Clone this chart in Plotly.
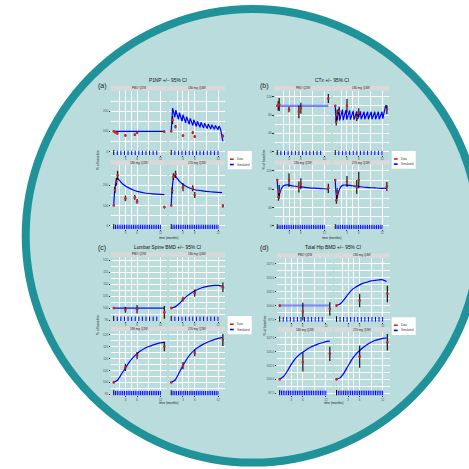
import plotly.graph_objects as go

W = H = 469

facet_names = ["PBO Q2W", "180 mg Q4W", "180 mg Q2W", "270 mg Q2W"]
panel_titles = ["P1NP +/\u2212 95% CI", "CTx +/\u2212 95% CI",
                "Lumbar Spine BMD +/\u2212 95% CI", "Total Hip BMD +/\u2212 95% CI"]
panel_tags = ["(a)", "(b)", "(c)", "(d)"]
legend_labels = ["Data", "Simulated"]
x_title = "time (months)"
y_title = "% of baseline"

x_range = [-0.7, 13.75]
x_ticks = [3, 6, 12]
x_tick_text = ["3", "6", "12"]
x_minor = [1.5, 4.5, 9]

# dosing times (months)
dose_pbo = [0, 0.92, 1.84, 2.76, 3.68, 4.6, 5.52, 6.44, 7.36, 8.28, 9.2, 10.12, 11.04]
dose_q4w = [0, 0.92, 1.84, 2.76, 3.68, 4.6, 5.52, 6.44, 7.36, 8.28, 9.2, 10.12, 11.04, 11.96]
dose_q2w = [0, 0.46, 0.92, 1.38, 1.84, 2.3, 2.76, 3.22, 3.68, 4.14, 4.6, 5.06, 5.52, 5.98,
            6.44, 6.9, 7.36, 7.82, 8.28, 8.74, 9.2, 9.66, 10.12, 10.58, 11.04, 11.5, 11.96]

# ---------------- (a) P1NP ----------------
p1np_obs_t = [[0, 0.4, 0.9, 3, 5.4, 6, 13.0],
              [0, 0.35, 1.1, 3, 5.5, 6, 13.2],
              [0, 0.3, 0.7, 1.0, 3, 5.4, 6, 13.0],
              [0, 0.25, 0.55, 1.1, 3, 5.5, 6, 13.2]]
p1np_obs_v = [[100, 95, 90, 80, 83, 93, 98],
              [100, 156, 123, 79, 94, 74, 77],
              [100, 177, 218, 250, 135, 140, 120, 92],
              [100, 174, 243, 255, 190, 185, 152, 98]]
p1np_obs_e = [[3, 5, 5, 5, 6, 6, 6],
              [3, 20, 8, 6, 7, 7, 7],
              [3, 15, 20, 22, 14, 12, 12, 7],
              [3, 15, 17, 18, 20, 15, 15, 8]]
p1np_sim_t = [[0, 13.0],
              [0, 0.35, 0.92, 1.17, 1.84, 2.09, 2.76, 3.01, 3.68, 3.93, 4.6, 4.85, 5.52, 5.77,
               6.44, 6.69, 7.36, 7.61, 8.28, 8.53, 9.2, 9.45, 10.12, 10.37, 11.04, 11.29,
               11.96, 12.21, 12.6, 13.2],
              [0, 0.2, 0.5, 0.8, 1.0, 1.5, 2, 3, 4, 5, 6, 8, 10, 12, 13],
              [0, 0.2, 0.5, 0.8, 1.0, 1.5, 2, 3, 4, 5, 6, 8, 10, 12, 13]]
p1np_sim_v = [[100, 100],
              [100, 215, 170, 205, 160, 192, 150, 182, 142, 172, 135, 164, 129, 157,
               124, 150, 120, 145, 117, 140, 114, 136, 112, 132, 110, 129, 108, 126, 112, 50],
              [100, 165, 210, 232, 235, 225, 212, 197, 186, 177, 170, 162, 158, 155, 154],
              [100, 175, 230, 248, 247, 235, 222, 205, 193, 184, 178, 172, 168, 165, 164]]
p1np_yticks = [0, 100, 200]
p1np_yminor = [50, 150, 250]
p1np_yrange = [-17, 301]
p1np_rug_y = -8

# ---------------- (b) CTx ----------------
ctx_obs_t = [[0, 0.25, 0.5, 3, 5.5, 6, 13.0],
             [0, 0.25, 0.5, 1.0, 3, 5.5, 6, 13.2],
             [0, 0.3, 0.5, 3, 5.5, 6, 13.0],
             [0, 0.3, 0.5, 3, 5.5, 6, 13.2]]
ctx_obs_v = [[100, 100, 103, 92, 87, 95, 116],
             [100, 65, 80, 88, 100, 75, 85, 92],
             [100, 63, 74, 100, 85, 92, 82],
             [100, 56, 70, 97, 85, 100, 86]]
ctx_obs_e = [[2, 10, 14, 6, 14, 12, 10],
             [2, 8, 12, 10, 15, 8, 10, 10],
             [2, 8, 15, 15, 12, 12, 10],
             [2, 8, 12, 12, 15, 18, 10]]
ctx_sim_t = [[0, 13.0],
             [0, 0.25, 0.92, 1.12, 1.84, 2.04, 2.76, 2.96, 3.68, 3.88, 4.6, 4.8, 5.52, 5.72,
              6.44, 6.64, 7.36, 7.56, 8.28, 8.48, 9.2, 9.4, 10.12, 10.32, 11.04, 11.24,
              11.96, 12.16, 12.9, 13.2],
             [0, 0.15, 0.35, 0.6, 1, 1.5, 2, 3, 4, 6, 8, 10, 12, 13],
             [0, 0.15, 0.35, 0.6, 1, 1.5, 2, 3, 4, 6, 8, 10, 12, 13]]
ctx_sim_v = [[100, 100],
             [100, 65, 93, 68, 92, 69, 91, 70, 90, 70, 89, 70, 88, 71,
              88, 71, 87, 71, 87, 71, 87, 71, 87, 71, 87, 71, 87, 72, 101, 95],
             [100, 80, 66, 70, 80, 87, 89, 89, 87, 85, 83, 82, 81, 80],
             [100, 78, 62, 66, 78, 86, 89, 89, 88, 86, 84, 83, 82, 82]]
ctx_yticks = [0, 40, 80, 120]
ctx_yminor = [20, 60, 100]
ctx_yrange = [-7, 133]
ctx_rug_y = -3.3

# ---------------- (c) Lumbar spine BMD ----------------
ls_obs_t = [[0, 3, 6, 13.0], [0, 3, 6, 13.2], [0, 3, 6, 13.0], [0, 3, 6, 13.2]]
ls_obs_v = [[100, 99.3, 99.5, 98.2],
            [100, 103.75, 106.25, 108.75],
            [100, 106.3, 111.2, 115.0],
            [100, 107.0, 112.4, 117.7]]
ls_obs_e = [[0.3, 1.3, 1.8, 2.7],
            [0.3, 1.0, 1.5, 2.0],
            [0.3, 1.5, 1.5, 2.0],
            [0.3, 1.5, 1.5, 2.5]]
sim_months = [0, 1, 2, 3, 4, 5, 6, 7, 8, 9, 10, 11, 12, 13]
ls_sim_v = [[100, 100, 100, 100, 100, 100, 100, 100, 100, 100, 100, 100, 100, 100],
            [100, 100.5, 101.8, 103.5, 105, 106.2, 107.2, 108, 108.6, 109, 109.3, 109.5, 109.5, 109.2],
            [100, 101, 103.5, 106, 108.5, 110.5, 112, 113.3, 114.3, 115, 115.6, 116.1, 116.5, 116.7],
            [100, 101, 104, 107, 109.8, 112, 113.6, 114.8, 115.8, 116.6, 117.3, 117.9, 118.4, 118.7]]
ls_yticks = [95, 100, 105, 110, 115, 120]
ls_yminor = [97.5, 102.5, 107.5, 112.5, 117.5]
ls_yrange = [94.6, 121.5]
ls_rug_y = 95.4

# ---------------- (d) Total hip BMD ----------------
th_obs_t = [[0, 6, 13.0], [0, 6, 13.2], [0, 6, 13.0], [0, 6, 13.2]]
th_obs_v = [[100, 98.9, 99.4], [100, 100.9, 102.1], [100, 103.1, 104.6], [100, 104.1, 106.7]]
th_obs_e = [[0.2, 1.6, 1.2], [0.2, 1.2, 1.5], [0.2, 1.7, 1.3], [0.2, 2.0, 1.5]]
th_sim_v = [[100, 100, 100, 100, 100, 100, 100, 100, 100, 100, 100, 100, 100, 100],
            [100, 100.3, 101.1, 102, 102.8, 103.3, 103.7, 104, 104.2, 104.4, 104.5, 104.6, 104.6, 104.3],
            [100, 100.5, 101.5, 102.7, 103.7, 104.4, 104.9, 105.4, 105.8, 106.1, 106.4, 106.6, 106.8, 106.9],
            [100, 100.3, 101.2, 102.4, 103.6, 104.5, 105.2, 105.8, 106.3, 106.7, 107, 107.2, 107.4, 107.5]]
th_yticks = [97.5, 100, 102.5, 105, 107.5]
th_ytext = ["97.5", "100.0", "102.5", "105.0", "107.5"]
th_yminor = [98.75, 101.25, 103.75, 106.25]
th_yrange = [97.1, 108.6]
th_rug_y = 97.5

# ---------------- assemble panels ----------------
panels = [
    dict(obs_t=p1np_obs_t, obs_v=p1np_obs_v, obs_e=p1np_obs_e, sim_t=p1np_sim_t, sim_v=p1np_sim_v,
         yt=p1np_yticks, ytt=[str(v) for v in p1np_yticks], ym=p1np_yminor, yr=p1np_yrange, rug=p1np_rug_y,
         spline=[False, False, True, True]),
    dict(obs_t=ctx_obs_t, obs_v=ctx_obs_v, obs_e=ctx_obs_e, sim_t=ctx_sim_t, sim_v=ctx_sim_v,
         yt=ctx_yticks, ytt=[str(v) for v in ctx_yticks], ym=ctx_yminor, yr=ctx_yrange, rug=ctx_rug_y,
         spline=[False, False, True, True]),
    dict(obs_t=ls_obs_t, obs_v=ls_obs_v, obs_e=ls_obs_e, sim_t=[sim_months] * 4, sim_v=ls_sim_v,
         yt=ls_yticks, ytt=[str(v) for v in ls_yticks], ym=ls_yminor, yr=ls_yrange, rug=ls_rug_y,
         spline=[True] * 4),
    dict(obs_t=th_obs_t, obs_v=th_obs_v, obs_e=th_obs_e, sim_t=[sim_months] * 4, sim_v=th_sim_v,
         yt=th_yticks, ytt=th_ytext, ym=th_yminor, yr=th_yrange, rug=th_rug_y,
         spline=[True] * 4),
]
doses = [dose_pbo, dose_q4w, dose_q2w, dose_q2w]
pbo_light = [False, True, False, True]

# geometry in pixels
geom = [
    dict(cols=[(111, 167.3), (168.5, 225)], rows=[(90.7, 155), (165, 229)],
         strips=[(86, 90.7), (160.3, 165)], title=(168, 80.7), tag=(102, 85.7),
         ylab=(98, 160), xlab=(168, 237.8), legend=(227.7, 151, 251.7, 169.3)),
    dict(cols=[(274.5, 331.3), (332.5, 389)], rows=[(90.7, 155), (165, 229)],
         strips=[(86, 90.7), (160.3, 165)], title=(331.7, 80.7), tag=(264, 85.7),
         ylab=(263.5, 160), xlab=(331.7, 237.8), legend=(391.7, 151, 415.7, 168.7)),
    dict(cols=[(111, 167.3), (168.5, 225)], rows=[(256.7, 321), (331, 395.3)],
         strips=[(252.3, 256.7), (326.7, 331)], title=(167.7, 247.5), tag=(102, 248),
         ylab=(98, 325), xlab=(168, 403.2), legend=(227.7, 316, 251.7, 334.3)),
    dict(cols=[(277, 332.7), (333.8, 389.5)], rows=[(257.5, 321.7), (331.7, 395.3)],
         strips=[(253.3, 257.5), (327.3, 331.7)], title=(333, 247.5), tag=(264, 248),
         ylab=(264.5, 326), xlab=(333, 403.2), legend=(391.7, 317.3, 415.7, 335)),
]


def PX(x):
    return x / W


def PY(y):
    return 1 - y / H


BLUE = "#0000ff"
RED = "#d42020"
TXT = "#4d4d4d"
FONT = "Liberation Sans, Arial, sans-serif"

fig = go.Figure()
layout = dict(width=W, height=H, margin=dict(l=0, r=0, t=0, b=0), autosize=False,
              paper_bgcolor="white", plot_bgcolor="#ebebeb", showlegend=False,
              font=dict(family=FONT, size=3, color=TXT))
shapes = []
annotations = []

# circle background
cx, cy, r, lw = 252.5, 235.8, 230.8, 8
shapes.append(dict(type="circle", xref="paper", yref="paper", layer="below",
                   x0=PX(cx - r + lw / 2), x1=PX(cx + r - lw / 2),
                   y0=PY(cy + r - lw / 2), y1=PY(cy - r + lw / 2),
                   fillcolor="#badcdd", line=dict(color="#20939a", width=lw)))

n = 0
for p, (P, G) in enumerate(zip(panels, geom)):
    for f in range(4):
        n += 1
        col, row = f % 2, f // 2
        xs = "" if n == 1 else str(n)
        x0, x1 = G["cols"][col]
        y0, y1 = G["rows"][row]
        layout["xaxis" + xs] = dict(
            domain=[PX(x0), PX(x1)], anchor="y" + xs, range=x_range,
            tickmode="array", tickvals=x_ticks, ticktext=x_tick_text,
            showgrid=True, gridcolor="white", gridwidth=0.9, zeroline=False, showline=False,
            ticks="outside", ticklen=1.1, tickwidth=0.5, tickcolor="#333",
            tickfont=dict(size=2.8, color=TXT, family=FONT),
            minor=dict(tickvals=x_minor, showgrid=True, gridcolor="white", gridwidth=0.45, ticks=""),
            fixedrange=True)
        layout["yaxis" + xs] = dict(
            domain=[PY(y1), PY(y0)], anchor="x" + xs, range=P["yr"],
            tickmode="array", tickvals=P["yt"], ticktext=P["ytt"],
            showticklabels=(col == 0),
            showgrid=True, gridcolor="white", gridwidth=0.9, zeroline=False, showline=False,
            ticks="outside" if col == 0 else "", ticklen=1.3, tickwidth=0.5, tickcolor="#333",
            tickfont=dict(size=3, color=TXT, family=FONT),
            minor=dict(tickvals=P["ym"], showgrid=True, gridcolor="white", gridwidth=0.45, ticks=""),
            fixedrange=True)
        xa, ya = "x" + xs, "y" + xs

        # dosing rug
        d = doses[f]
        fig.add_trace(go.Scatter(x=d[1:], y=[P["rug"]] * (len(d) - 1), xaxis=xa, yaxis=ya,
                                 mode="markers", hoverinfo="skip",
                                 marker=dict(symbol="line-ns", size=3.5,
                                             line=dict(color=BLUE, width=1))))
        fig.add_trace(go.Scatter(x=d[:1], y=[P["rug"]], xaxis=xa, yaxis=ya,
                                 mode="markers", hoverinfo="skip",
                                 marker=dict(symbol="line-ns", size=4.5,
                                             line=dict(color="black", width=1))))
        # simulated
        if f == 0 and pbo_light[p]:
            lc, lwid = "rgba(70,70,255,0.65)", 2.2
        else:
            lc, lwid = BLUE, 1.2
        fig.add_trace(go.Scatter(x=P["sim_t"][f], y=P["sim_v"][f], xaxis=xa, yaxis=ya,
                                 mode="lines",
                                 line=dict(color=lc, width=lwid,
                                           shape="spline" if P["spline"][f] else "linear",
                                           smoothing=0.6)))
        # observed
        fig.add_trace(go.Scatter(x=P["obs_t"][f], y=P["obs_v"][f], xaxis=xa, yaxis=ya,
                                 mode="markers",
                                 marker=dict(color=RED, size=2.6),
                                 error_y=dict(type="data", array=P["obs_e"][f], color="rgba(0,0,0,0.85)",
                                              thickness=1.3, width=0)))

        # strip
        s0, s1 = G["strips"][row]
        shapes.append(dict(type="rect", xref="paper", yref="paper", layer="above",
                           x0=PX(x0), x1=PX(x1), y0=PY(s1), y1=PY(s0),
                           fillcolor="#d9d9d9", line=dict(width=0)))
        annotations.append(dict(text=facet_names[f], xref="paper", yref="paper",
                                x=PX((x0 + x1) / 2), y=PY((s0 + s1) / 2), showarrow=False,
                                xanchor="center", yanchor="middle",
                                font=dict(size=3, color="#1a1a1a", family=FONT)))

    # titles
    tx, ty = G["title"]
    annotations.append(dict(text=panel_titles[p], xref="paper", yref="paper", x=PX(tx), y=PY(ty),
                            showarrow=False, xanchor="center", yanchor="middle",
                            font=dict(size=4.8, color="#111", family=FONT)))
    gx, gy = G["tag"]
    annotations.append(dict(text=panel_tags[p], xref="paper", yref="paper", x=PX(gx), y=PY(gy),
                            showarrow=False, xanchor="center", yanchor="middle",
                            font=dict(size=7, color="#222", family=FONT)))
    lx, ly = G["ylab"]
    annotations.append(dict(text=y_title, xref="paper", yref="paper", x=PX(lx), y=PY(ly),
                            showarrow=False, textangle=-90, xanchor="center", yanchor="middle",
                            font=dict(size=3.3, color="#222", family=FONT)))
    xx, xy = G["xlab"]
    annotations.append(dict(text=x_title, xref="paper", yref="paper", x=PX(xx), y=PY(xy),
                            showarrow=False, xanchor="center", yanchor="middle",
                            font=dict(size=3.2, color="#222", family=FONT)))
    # legend box
    L0, T0, L1, T1 = G["legend"]
    shapes.append(dict(type="rect", xref="paper", yref="paper", layer="above",
                       x0=PX(L0), x1=PX(L1), y0=PY(T1), y1=PY(T0),
                       fillcolor="white", line=dict(width=0)))
    ky1 = T0 + (T1 - T0) * 0.45
    ky2 = T0 + (T1 - T0) * 0.74
    shapes.append(dict(type="line", xref="paper", yref="paper", layer="above",
                       x0=PX(L0 + 2.2), x1=PX(L0 + 6), y0=PY(ky1), y1=PY(ky1),
                       line=dict(color=RED, width=1.6)))
    shapes.append(dict(type="line", xref="paper", yref="paper", layer="above",
                       x0=PX(L0 + 2.2), x1=PX(L0 + 6), y0=PY(ky2), y1=PY(ky2),
                       line=dict(color=BLUE, width=1.6)))
    for lab, ky in zip(legend_labels, [ky1, ky2]):
        annotations.append(dict(text=lab, xref="paper", yref="paper", x=PX(L0 + 7.5), y=PY(ky),
                                showarrow=False, xanchor="left", yanchor="middle",
                                font=dict(size=2.8, color="#333", family=FONT)))

layout["shapes"] = shapes
layout["annotations"] = annotations
fig.update_layout(**layout)
fig.write_html("out.html")
